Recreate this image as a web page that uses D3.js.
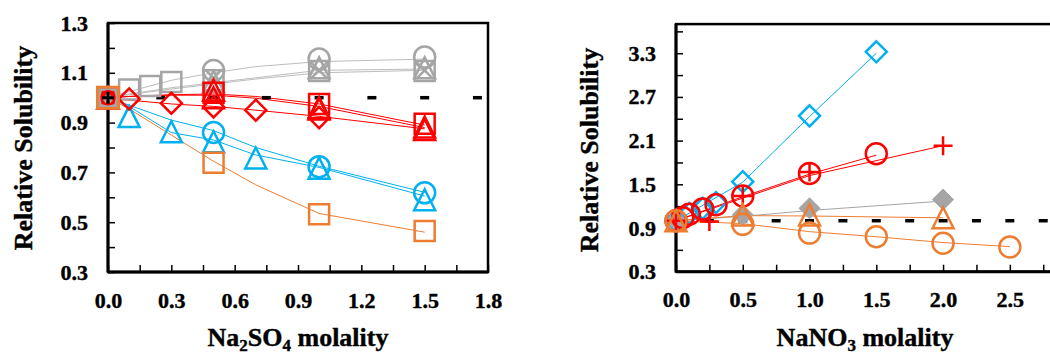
<!DOCTYPE html>
<html lang="en">
<head>
<meta charset="UTF-8">
<title>Relative solubility</title>
<script src="https://d3js.org/d3.v7.min.js"></script>
<style>
  body { margin: 0; background: #fff; }
  .tick line { stroke: #000; stroke-width: 1.5; }
  .fit { fill: none; stroke-width: 1; }
</style>
</head>
<body>
<svg id="chart" width="1050" height="356"></svg>
<script>
  // ---- Na2SO4 panel (left) ----
  const so4X = [0, 0.5, 1.0, 1.5];
  const so4GraySqX = [0, 0.1, 0.2, 0.3, 0.5, 1.0, 1.5];
  const so4GraySq = [1.0, 1.033, 1.047, 1.063, 1.07, 1.107, 1.107];
  const so4GrayCircle = [1.0, 1.109, 1.155, 1.163];
  const so4GrayTri = [1.0, 1.065, 1.12, 1.12];
  const so4GrayX = [1.0, 1.08, 1.11, 1.11];
  const so4RedSq = [1.0, 1.02, 0.975, 0.895];
  const so4RedTri = [1.0, 1.03, 0.96, 0.882];
  const so4RedTri2 = [1.0, 1.0, 0.955, 0.872];
  const so4RedDiaX = [0, 0.1, 0.3, 0.5, 0.7, 1.0];
  const so4RedDia = [1.0, 0.995, 0.978, 0.963, 0.95, 0.92];
  const so4BlueTriX = [0, 0.1, 0.3, 0.5, 0.7, 1.0, 1.5];
  const so4BlueTri = [1.0, 0.924, 0.863, 0.823, 0.758, 0.717, 0.59];
  const so4BlueCircle = [1.0, 0.86, 0.723, 0.618];
  const so4OrangeSq = [1.0, 0.739, 0.532, 0.465];
  const so4DashX = [0, 0.25, 0.5, 0.75, 1.0, 1.25, 1.5, 1.75];

  // model lines, left panel
  const so4FitX = [0, 0.1, 0.3, 0.5, 0.7, 1.0, 1.5];
  const so4FitGray1 = [1.0, 1.025, 1.07, 1.10, 1.125, 1.145, 1.155];
  const so4FitGray2 = [1.0, 1.015, 1.04, 1.06, 1.08, 1.11, 1.115];
  const so4FitGray3 = [1.0, 1.012, 1.035, 1.055, 1.075, 1.10, 1.11];
  const so4FitRed1 = [1.0, 1.005, 1.012, 1.015, 1.005, 0.975, 0.89];
  const so4FitRed2 = [1.0, 1.005, 1.01, 1.01, 0.998, 0.965, 0.88];
  const so4FitRed3 = [1.0, 0.99, 0.975, 0.965, 0.95, 0.925, 0.875];
  const so4FitBlue1 = [1.0, 0.97, 0.91, 0.868, 0.80, 0.725, 0.62];
  const so4FitBlue2 = [1.0, 0.965, 0.86, 0.83, 0.77, 0.72, 0.605];
  const so4FitOrange = [1.0, 0.955, 0.85, 0.745, 0.65, 0.535, 0.46];

  const so4XTicks = ["0.0", "0.3", "0.6", "0.9", "1.2", "1.5", "1.8"];
  const so4YTicks = ["0.3", "0.5", "0.7", "0.9", "1.1", "1.3"];

  // ---- NaNO3 panel (right) ----
  const no3BlueDiaX = [0, 0.1, 0.2, 0.3, 0.5, 1.0, 1.5];
  const no3BlueDia = [1.0, 1.1, 1.17, 1.25, 1.536, 2.44, 3.32];
  const no3RedCircleX = [0, 0.05, 0.1, 0.2, 0.3, 0.5, 1.0, 1.5];
  const no3RedCircle = [1.0, 1.04, 1.09, 1.16, 1.22, 1.34, 1.65, 1.92];
  const no3RedPlusX = [0, 0.25, 0.5, 1.0, 2.0];
  const no3RedPlus = [1.0, 0.99, 1.34, 1.67, 2.03];
  const no3GrayX = [0, 0.5, 1.0, 2.0];
  const no3Gray = [1.0, 1.08, 1.17, 1.29];
  const no3OrangeTriX = [0, 0.5, 1.0, 2.0];
  const no3OrangeTri = [1.0, 1.08, 1.08, 1.04];
  const no3OrangeCircleX = [0, 0.5, 1.0, 1.5, 2.0, 2.5];
  const no3OrangeCircle = [1.0, 0.95, 0.83, 0.78, 0.69, 0.64];
  const no3DashX = [0, 0.25, 0.5, 0.75, 1.0, 1.25, 1.5, 1.75, 2.0, 2.25, 2.5, 2.75];

  // model lines, right panel
  const no3FitBlueX = [0, 0.5, 1.0, 1.5];
  const no3FitBlue = [1.0, 1.53, 2.43, 3.3];
  const no3FitRed1X = [0, 0.5, 1.0, 1.5];
  const no3FitRed1 = [1.0, 1.33, 1.64, 1.9];
  const no3FitRed2X = [0, 0.5, 1.0, 2.0];
  const no3FitRed2 = [1.0, 1.31, 1.62, 2.03];
  const no3FitGrayX = [0, 0.5, 1.0, 2.0];
  const no3FitGray = [1.0, 1.06, 1.14, 1.27];
  const no3FitOrange1X = [0, 0.5, 1.0, 2.0];
  const no3FitOrange1 = [1.0, 1.07, 1.065, 1.04];
  const no3FitOrange2X = [0, 0.5, 1.0, 1.5, 2.0, 2.5];
  const no3FitOrange2 = [1.0, 0.96, 0.85, 0.78, 0.7, 0.645];

  const no3XTicks = ["0.0", "0.5", "1.0", "1.5", "2.0", "2.5"];
  const no3YTicks = ["0.3", "0.9", "1.5", "2.1", "2.7", "3.3"];

  const GRAY = "#a5a5a5", GRAY_L = "#bdbdbd", RED = "#ff0000", BLUE = "#00b0f0", ORANGE = "#ed7d31";
  const FONT = "'Liberation Serif', 'Times New Roman', 'DejaVu Serif', serif";

  const svg = d3.select("#chart");

  function markerPath(type, s) {
    const h = s / 2;
    switch (type) {
      case "circle": return `M${h},0A${h},${h} 0 1,1 ${-h},0A${h},${h} 0 1,1 ${h},0Z`;
      case "square": return `M${-h},${-h}H${h}V${h}H${-h}Z`;
      case "triangle": return `M0,${-h}L${h},${h}H${-h}Z`;
      case "diamond": return `M0,${-h}L${h},0L0,${h}L${-h},0Z`;
      case "x": return `M${-h},${-h}L${h},${h}M${h},${-h}L${-h},${h}`;
      case "plus": return `M${-h},0H${h}M0,${-h}V${h}`;
      case "dash": return `M${-h},0H${h}`;
    }
  }

  // bold serif text, with a hairline stroke for the heavier look of the original
  function textStyle(sel, size) {
    sel.style("font-family", FONT).style("font-weight", "bold").style("font-size", size + "px")
      .attr("fill", "#000").attr("stroke", "#000").attr("stroke-width", 0.4);
  }

  function panel(cfg) {
    const x = d3.scaleLinear().domain(cfg.xDomain).range(cfg.xRange);
    const y = d3.scaleLinear().domain(cfg.yDomain).range(cfg.yRange);
    const g = svg.append("g");

    // frame
    g.append("rect")
      .attr("x", cfg.xRange[0]).attr("y", cfg.yRange[1])
      .attr("width", cfg.xRange[1] - cfg.xRange[0])
      .attr("height", cfg.yRange[0] - cfg.yRange[1])
      .attr("fill", "none").attr("stroke", "#000").attr("stroke-width", 2.5);

    // axes with inward ticks, labels only on the major values
    const fmtX = v => cfg.xLabels.includes(d3.format(".1f")(v)) ? d3.format(".1f")(v) : "";
    const fmtY = v => cfg.yLabels.includes(d3.format(".1f")(v)) ? d3.format(".1f")(v) : "";
    const xAxis = g.append("g")
      .attr("transform", `translate(0,${cfg.yRange[0]})`)
      .call(d3.axisBottom(x).tickValues(cfg.xTickVals).tickSizeInner(-7).tickSizeOuter(0).tickPadding(20).tickFormat(fmtX));
    const yAxis = g.append("g")
      .attr("transform", `translate(${cfg.xRange[0]},0)`)
      .call(d3.axisLeft(y).tickValues(cfg.yTickVals).tickSizeInner(-7).tickSizeOuter(0).tickPadding(20).tickFormat(fmtY));
    [xAxis, yAxis].forEach(a => {
      a.attr("font-family", FONT).attr("font-size", 22);
      a.select(".domain").remove();
      a.selectAll("text").call(textStyle, 22);
    });

    // thicker left and bottom axis lines
    g.append("line").attr("x1", cfg.xRange[0]).attr("x2", cfg.xRange[0])
      .attr("y1", cfg.yRange[1]).attr("y2", cfg.yRange[0]).attr("stroke", "#000").attr("stroke-width", 3);
    g.append("line").attr("x1", cfg.xRange[0]).attr("x2", cfg.xRange[1])
      .attr("y1", cfg.yRange[0]).attr("y2", cfg.yRange[0]).attr("stroke", "#000").attr("stroke-width", 3);

    // fitted lines
    const line = d3.line().x(d => x(d[0])).y(d => y(d[1]));
    cfg.fits.forEach(f => {
      g.append("path").attr("class", "fit")
        .attr("d", line(d3.zip(f.x, f.y)))
        .attr("stroke", f.color);
    });

    // markers
    cfg.marks.forEach(m => {
      g.append("g").selectAll("path")
        .data(d3.zip(m.x, m.y))
        .join("path")
        .attr("transform", d => `translate(${x(d[0])},${y(d[1])})`)
        .attr("d", markerPath(m.type, m.size || 21))
        .attr("stroke", m.color)
        .attr("stroke-width", m.width || 2.5)
        .attr("fill", m.fill || "none");
    });

    // titles
    const xt = g.append("text")
      .attr("x", cfg.xTitleX).attr("y", 346)
      .attr("text-anchor", "middle")
      .call(textStyle, 26);
    cfg.xTitle.forEach(p => {
      const t = xt.append("tspan").text(p.t);
      if (p.sub) t.style("font-size", "17px").attr("dy", 5);
      else if (p.after) t.attr("dy", -5);
    });
    g.append("text")
      .attr("transform", `translate(${cfg.yTitleX},${cfg.yTitleY}) rotate(-90)`)
      .attr("text-anchor", "middle")
      .call(textStyle, 26)
      .text("Relative Solubility");
  }

  const range = (a, b, s) => d3.range(Math.round((b - a) / s) + 1).map(i => +(a + i * s).toFixed(3));

  panel({
    xDomain: [0, 1.8], xRange: [108, 488],
    yDomain: [0.3, 1.3], yRange: [272, 23],
    xTickVals: range(0, 1.8, 0.15), yTickVals: range(0.3, 1.3, 0.1),
    xLabels: so4XTicks, yLabels: so4YTicks,
    xTitleX: 298, yTitleX: 32, yTitleY: 148,
    xTitle: [{t: "Na"}, {t: "2", sub: true}, {t: "SO", after: true}, {t: "4", sub: true}, {t: " molality", after: true}],
    fits: [
      {x: so4FitX, y: so4FitGray1, color: GRAY_L},
      {x: so4FitX, y: so4FitGray2, color: GRAY_L},
      {x: so4FitX, y: so4FitGray3, color: GRAY_L},
      {x: so4FitX, y: so4FitRed1, color: RED},
      {x: so4FitX, y: so4FitRed2, color: RED},
      {x: so4FitX, y: so4FitRed3, color: RED},
      {x: so4FitX, y: so4FitBlue1, color: BLUE},
      {x: so4FitX, y: so4FitBlue2, color: BLUE},
      {x: so4FitX, y: so4FitOrange, color: ORANGE}
    ],
    marks: [
      {x: so4DashX, y: so4DashX.map(() => 1.0), type: "dash", size: 9, color: "#000", width: 3.5},
      {x: so4BlueTriX, y: so4BlueTri, type: "triangle", color: BLUE},
      {x: so4X, y: so4BlueCircle, type: "circle", color: BLUE},
      {x: so4X, y: so4OrangeSq, type: "square", size: 20, color: ORANGE},
      {x: so4GraySqX.slice(1), y: so4GraySq.slice(1), type: "square", size: 20, color: GRAY},
      {x: so4X, y: so4GrayCircle, type: "circle", color: GRAY},
      {x: so4X, y: so4GrayTri, type: "triangle", color: GRAY},
      {x: so4X, y: so4GrayX, type: "x", size: 17, color: GRAY},
      {x: so4RedDiaX, y: so4RedDia, type: "diamond", color: RED},
      {x: so4X, y: so4RedSq, type: "square", size: 20, color: RED},
      {x: so4X, y: so4RedTri, type: "triangle", color: RED},
      {x: so4X, y: so4RedTri2, type: "triangle", color: RED},
      // the shared starting point: orange square outside, gray inside
      {x: [0], y: [so4OrangeSq[0]], type: "square", size: 21, color: ORANGE, width: 3},
      {x: [0], y: [so4GraySq[0]], type: "square", size: 16, color: GRAY},
      {x: [0], y: [1.0], type: "circle", size: 13, color: RED},
      {x: [0], y: [1.0], type: "plus", size: 12, color: "#000", width: 3}
    ]
  });

  panel({
    xDomain: [0, 3], xRange: [676, 1076.6],
    yDomain: [0.3, 3.7], yRange: [271.7, 24.1],
    xTickVals: range(0, 3, 0.25), yTickVals: range(0.3, 3.6, 0.3),
    xLabels: no3XTicks, yLabels: no3YTicks,
    xTitleX: 865, yTitleX: 598, yTitleY: 150,
    xTitle: [{t: "NaNO"}, {t: "3", sub: true}, {t: " molality", after: true}],
    fits: [
      {x: no3FitBlueX, y: no3FitBlue, color: BLUE},
      {x: no3FitGrayX, y: no3FitGray, color: GRAY},
      {x: no3FitOrange1X, y: no3FitOrange1, color: ORANGE},
      {x: no3FitOrange2X, y: no3FitOrange2, color: ORANGE},
      {x: no3FitRed1X, y: no3FitRed1, color: RED},
      {x: no3FitRed2X, y: no3FitRed2, color: RED}
    ],
    marks: [
      {x: no3DashX, y: no3DashX.map(() => 1.0), type: "dash", size: 9, color: "#000", width: 3.5},
      {x: no3BlueDiaX, y: no3BlueDia, type: "diamond", size: 21, color: BLUE},
      {x: no3GrayX, y: no3Gray, type: "diamond", size: 21, color: GRAY, fill: GRAY, width: 1},
      {x: no3RedCircleX, y: no3RedCircle, type: "circle", color: RED},
      {x: no3RedPlusX, y: no3RedPlus, type: "plus", size: 19, color: RED, width: 2.5},
      {x: no3OrangeCircleX, y: no3OrangeCircle, type: "circle", color: ORANGE},
      {x: no3OrangeTriX, y: no3OrangeTri, type: "triangle", color: ORANGE}
    ]
  });
</script>
</body>
</html>
